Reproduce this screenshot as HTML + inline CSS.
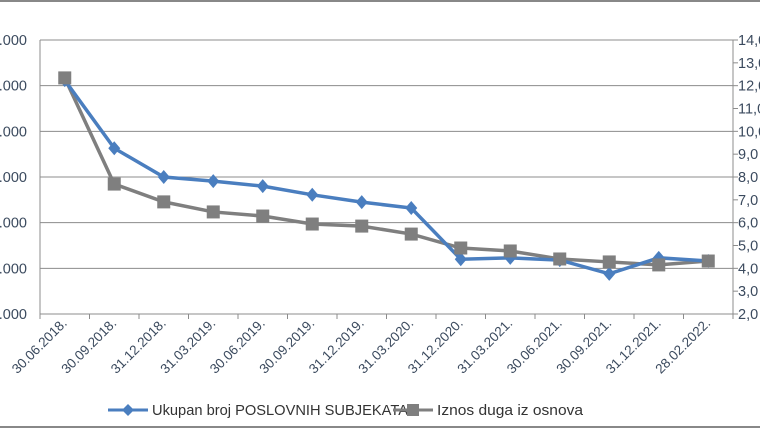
<!DOCTYPE html>
<html><head><meta charset="utf-8"><style>
body{margin:0;background:#fff;}
svg{display:block;font-family:"Liberation Sans",sans-serif;}
</style></head><body>
<svg id="chart" width="760" height="428">
<line x1="0" y1="1" x2="760" y2="1" stroke="#888" stroke-width="2"/>
<line x1="0" y1="427" x2="760" y2="427" stroke="#888" stroke-width="2"/>
<g id="grid"></g><g id="axes"></g><g id="series"></g>
<g>
<g>
<line x1="108" y1="410" x2="148" y2="410" stroke="#4a7ebf" stroke-width="3"/>
<path d="M128 404 L134 410 L128 416 L122 410 Z" fill="#4a7ebf"/>
<text x="152" y="415" font-size="14.5" fill="#333" textLength="256" lengthAdjust="spacingAndGlyphs">Ukupan broj POSLOVNIH SUBJEKATA</text></g>
<g>
<line x1="393" y1="410" x2="433" y2="410" stroke="#7f7f7f" stroke-width="3"/>
<rect x="407" y="404" width="12" height="12" fill="#7f7f7f"/>
<text x="437" y="415" font-size="14.5" fill="#333" textLength="146" lengthAdjust="spacingAndGlyphs">Iznos duga iz osnova</text></g>
</g>
</svg>
<script>
const categories=["30.06.2018.","30.09.2018.","31.12.2018.","31.03.2019.","30.06.2019.","30.09.2019.","31.12.2019.","31.03.2020.","31.12.2020.","31.03.2021.","30.06.2021.","30.09.2021.","31.12.2021.","28.02.2022."];
const subjects=[71200,56300,50000,49100,48000,46100,44500,43200,32000,32300,31800,28800,32300,31600];
const debt=[12.34,7.69,6.91,6.47,6.29,5.94,5.85,5.50,4.89,4.76,4.41,4.28,4.15,4.32];
const leftTicks=[20000,30000,40000,50000,60000,70000,80000];
const rightTicks=[2,3,4,5,6,7,8,9,10,11,12,13,14];
const NS="http://www.w3.org/2000/svg";
const L=40,R=733,T=40,B=314;
const yL=v=>B-(v-20000)/60000*(B-T);
const yR=v=>B-(v-2)/12*(B-T);
const slot=(R-L)/categories.length;
const xC=i=>L+slot*(i+0.5);
function mk(tag,attrs,parent,txt){const e=document.createElementNS(NS,tag);for(const k in attrs)e.setAttribute(k,attrs[k]);if(txt!==undefined)e.textContent=txt;parent.appendChild(e);return e;}
const grid=document.getElementById('grid'),axes=document.getElementById('axes'),ser=document.getElementById('series');
leftTicks.forEach(v=>{
 const g=mk('line',{x1:L,x2:R,y1:yL(v),y2:yL(v),stroke:'#8c8c8c','stroke-width':1},grid);
 
 
 const t=mk('text',{x:27,y:yL(v)+5,'text-anchor':'end','font-size':14.5,fill:'#3b4a5e'},axes,v.toLocaleString('de-DE'));
 
 
});
rightTicks.forEach(v=>{
 mk('line',{x1:R,x2:R+5,y1:yR(v),y2:yR(v),stroke:'#8c8c8c'},axes);
 const t=mk('text',{x:738,y:yR(v)+5,'font-size':14.5,fill:'#3b4a5e'},axes,v+',0');
 
 
});
mk('line',{x1:L,x2:L,y1:T,y2:B,stroke:'#8c8c8c'},axes);
mk('line',{x1:R,x2:R,y1:T,y2:B,stroke:'#8c8c8c'},axes);
mk('line',{x1:L,x2:R,y1:B,y2:B,stroke:'#8c8c8c'},axes);
for(let i=0;i<=categories.length;i++)mk('line',{x1:L+slot*i,x2:L+slot*i,y1:B,y2:B+5,stroke:'#8c8c8c'},axes);
categories.forEach((c,i)=>{
 const x=xC(i)+3,y=B+10;
 const t=mk('text',{x:x,y:y,'text-anchor':'end','font-size':13.5,fill:'#3b4a5e',transform:`rotate(-45 ${x} ${y})`},axes,c);
 
 
});
const pd=debt.map((v,i)=>(i?'L':'M')+xC(i)+' '+yR(v)).join(' ');
const pl=mk('path',{d:pd,fill:'none',stroke:'#7f7f7f','stroke-width':3.5},ser);


const ps=subjects.map((v,i)=>(i?'L':'M')+xC(i)+' '+yL(v)).join(' ');
const bl=mk('path',{d:ps,fill:'none',stroke:'#4a7ebf','stroke-width':3.5},ser);


subjects.forEach((v,i)=>{
 const x=xC(i),y=yL(v);
 const m=mk('path',{d:`M${x} ${y-7} L${x+6} ${y} L${x} ${y+7} L${x-6} ${y} Z`,fill:'#4a7ebf'},ser);
 
 
});
debt.forEach((v,i)=>{
 const x=xC(i),y=yR(v);
 const m=mk('rect',{x:x-6.5,y:y-6.5,width:13,height:13,fill:'#7f7f7f'},ser);
 
 
});
</script>
</body></html>
